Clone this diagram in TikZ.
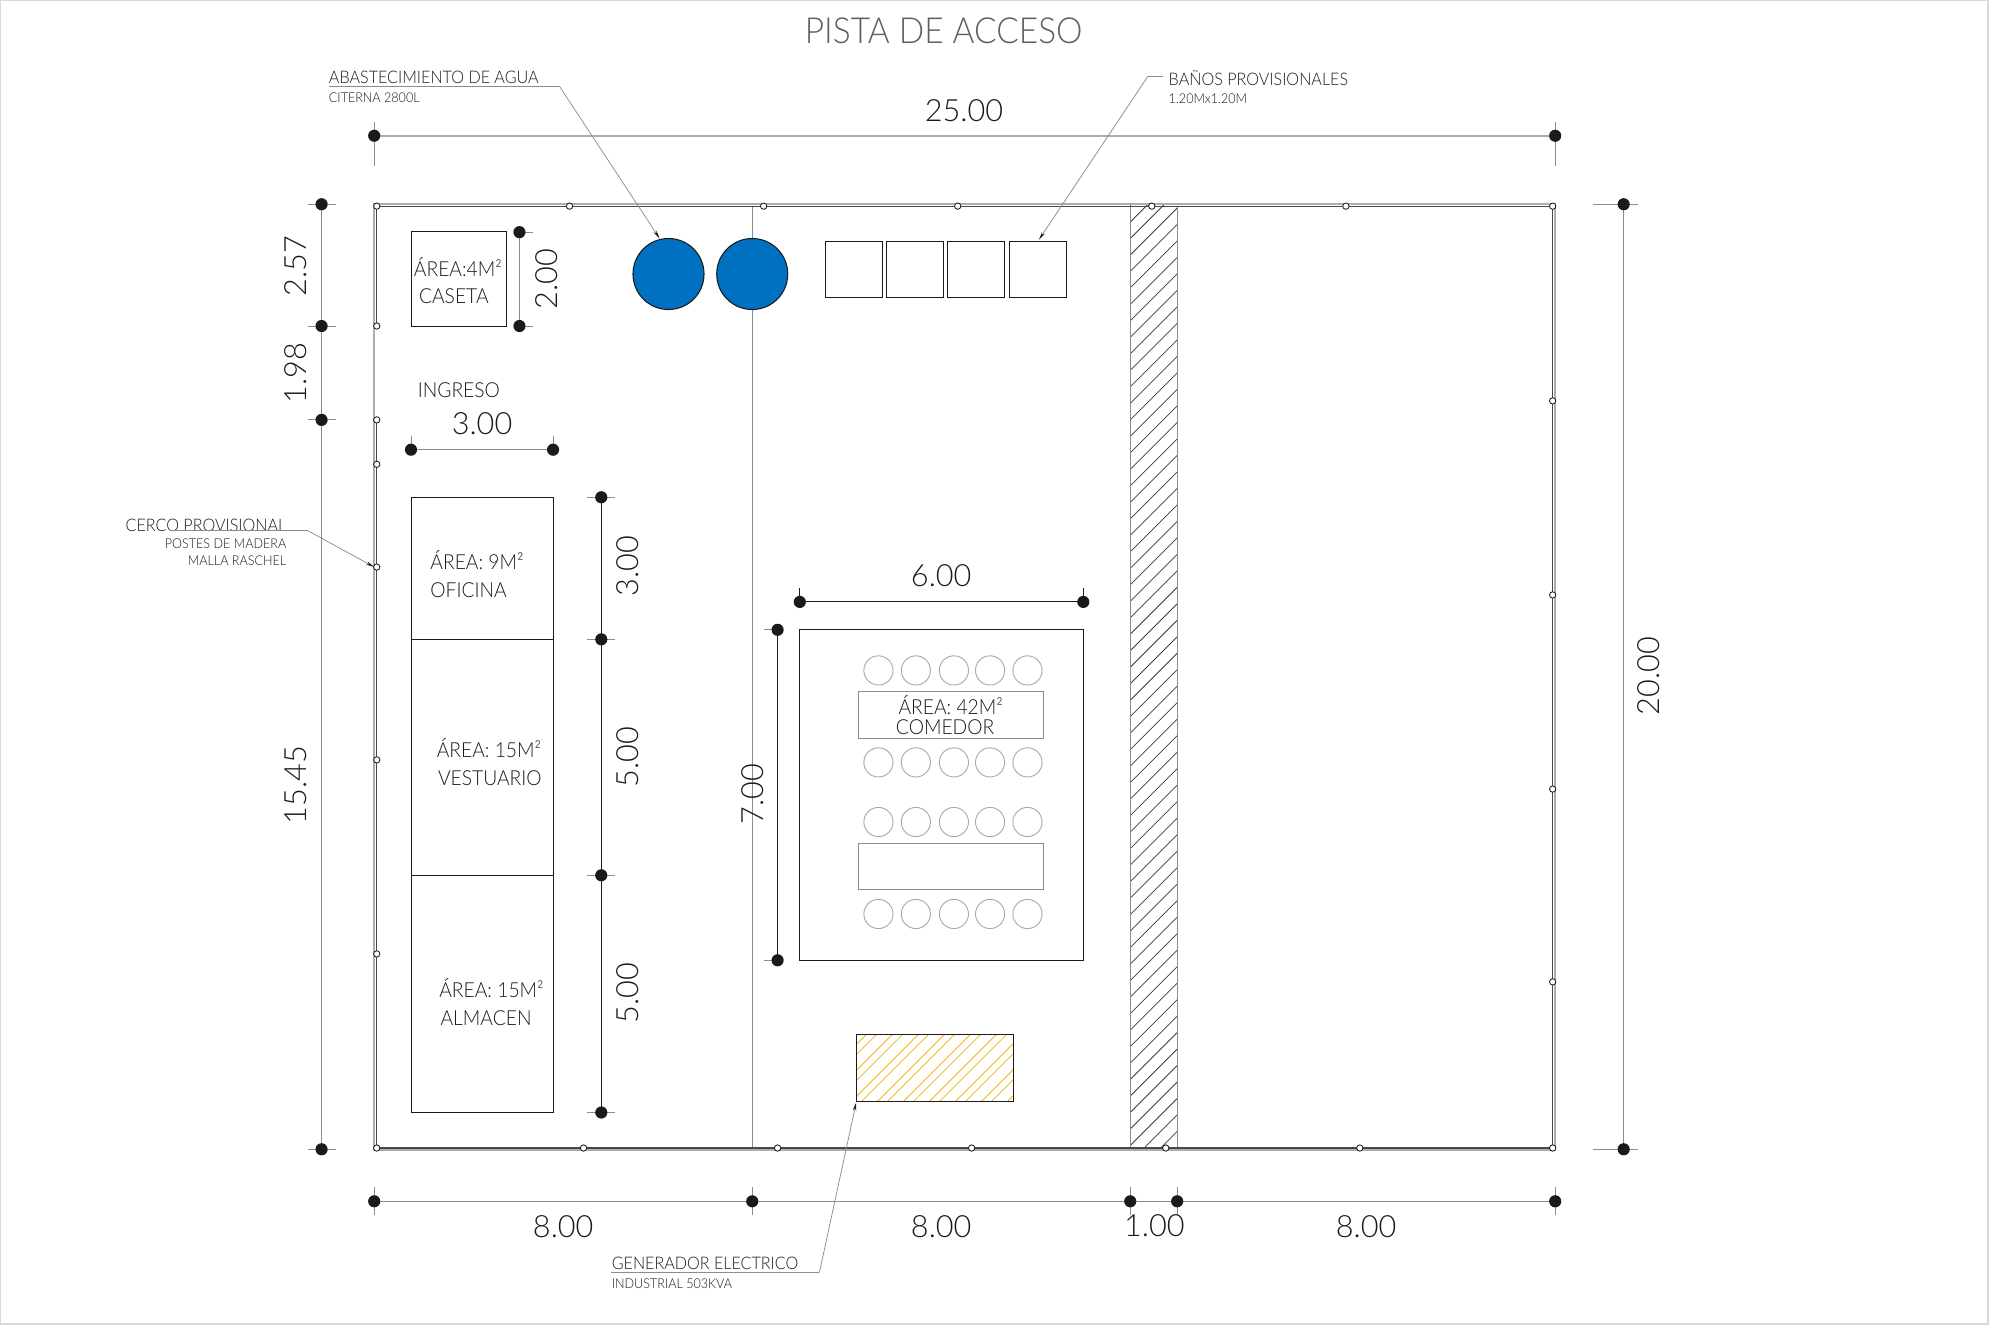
\documentclass[tikz,border=0pt]{standalone}
\usepackage{fontspec}
\setmainfont{Lato Light}
\newfontfamily\narrowfont[FakeStretch=0.93]{Lato Light}
\usetikzlibrary{arrows.meta}
\definecolor{inkdark}{HTML}{1A1A1A}
\definecolor{linegray}{HTML}{8C8C8C}
\definecolor{palegray}{HTML}{ADADAD}
\definecolor{chairgray}{HTML}{ABABAB}
\definecolor{tankblue}{HTML}{0070C0}
\definecolor{hatchyellow}{HTML}{F0C030}
\tikzset{
	x=0.6pt, y=-0.6pt,
	dimtext/.style={text=inkdark, inner sep=0pt, font=\fontsize{14.5}{16}\selectfont},
	roomtext/.style={text=inkdark, inner sep=0pt, anchor=mid west, font=\narrowfont\fontsize{9.8}{11}\selectfont},
	notetext/.style={text=inkdark, inner sep=0pt, font=\narrowfont\fontsize{8.2}{9}\selectfont},
	subtext/.style={text=inkdark, inner sep=0pt, font=\narrowfont\fontsize{6.4}{7}\selectfont},
	room/.style={draw=inkdark, line width=0.55pt},
	thinbox/.style={draw=linegray, line width=0.5pt},
	chair/.style={draw=chairgray, line width=0.45pt},
	dimline/.style={draw=linegray, line width=0.6pt},
	paledim/.style={draw=palegray, line width=0.8pt},
	darkdim/.style={draw=inkdark, line width=0.5pt},
	tick/.style={draw=linegray, line width=0.45pt},
	leader/.style={draw=linegray, line width=0.35pt},
	leaderarrow/.style={draw=linegray, line width=0.35pt, -{Stealth[length=4pt,width=1.6pt,inkdark]}},
	post/.style={draw=inkdark, fill=white, line width=0.4pt},
}
\newcommand{\dimdot}[1]{\fill[inkdark] (#1) circle [radius=4.8];}
\begin{document}
\begin{tikzpicture}
	\useasboundingbox (0,0) rectangle (1568,1044.5);
	\draw[draw=black!15, line width=0.9pt] (0.2,0.2) rectangle (1567.3,1043.8);	% Sheet edge
	% Axis between the two first bays
	\draw[dimline] (593,162) -- (593,906);
	% Strip of 1.00
	\begin{scope}
		\clip (891,162) rectangle (928,906);
		\foreach \i in {162,175,...,960}
			\draw[draw=inkdark!85, line width=0.35pt] (891,\i) -- (928,\i-37);
	\end{scope}
	\draw[thinbox] (891,162) -- (891,906);
	\draw[thinbox] (928,162) -- (928,906);
	% Fence, open at the entrance
	\draw[draw=palegray, line width=0.8pt] (295,161) -- (1226,161) -- (1226,906.5) -- (295,906.5) -- cycle;
	\draw[draw=inkdark!80, line width=0.5pt] (297,257) -- (297,163) -- (1224,163) -- (1224,905) -- (297,905) -- (297,331);
	\foreach \x in {297,449,602,755,908,1061,1224}
		\draw[post] (\x,162.5) circle [radius=2.5];
	\foreach \x in {297,460,613,766,919,1072,1224}
		\draw[post] (\x,905) circle [radius=2.5];
	\foreach \y in {257,331,366,447,599,752}
		\draw[post] (297,\y) circle [radius=2.5];
	\foreach \y in {316,469,622,774}
		\draw[post] (1224,\y) circle [radius=2.5];
	% Caseta
	\draw[room] (324.5,182.5) rectangle (399,257.5);
	\node[roomtext] (casetaarea) at (326,214) {ÁREA:4M²};
	\node[roomtext] (caseta) at (330,235) {CASETA};
	% Tanks
	\draw[draw=inkdark, fill=tankblue, line width=0.5pt] (527,216) circle [radius=28];
	\draw[draw=inkdark, fill=tankblue, line width=0.5pt] (593,216) circle [radius=28];
	% Toilets
	\foreach \x/\xx in {650.5/695.5,698.5/744,747/792,795.5/840.5}
		\draw[room, line width=0.45pt] (\x,190) rectangle (\xx,234.5);
	% Rooms on the left
	\draw[room] (324.5,392) rectangle (436.5,504);
	\draw[room] (324.5,504) rectangle (436.5,690);
	\draw[room] (324.5,690) rectangle (436.5,877);
	\node[roomtext] (ingreso) at (329,309) {INGRESO};
	\node[roomtext] (oficinaarea) at (339,445) {ÁREA: 9M²};
	\node[roomtext] (oficina) at (339,467) {OFICINA};
	\node[roomtext] (vestuarioarea) at (344,593) {ÁREA: 15M²};
	\node[roomtext] (vestuario) at (345,615) {VESTUARIO};
	\node[roomtext] (almacenarea) at (346,782) {ÁREA: 15M²};
	\node[roomtext] (almacen) at (347,804) {ALMACEN};
	% Dining room
	\draw[room] (630.5,496.5) rectangle (854,757);
	\draw[thinbox] (676.5,545) rectangle (822.5,582.5);
	\draw[thinbox] (676.5,665) rectangle (822.5,701.5);
	\foreach \y in {528.5,601,648,720.5}
		\foreach \x in {692.5,722,752,780.5,810}
			\draw[chair] (\x,\y) circle [radius=11.5];
	\node[roomtext] (comedorarea) at (708,559) {ÁREA: 42M²};
	\node[roomtext] (comedor) at (706,575) {COMEDOR};
	% Generator
	\begin{scope}
		\clip (675.5,815.5) rectangle (799,868);
		\foreach \i in {610,630.5,...,800} {
			\draw[draw=hatchyellow, line width=0.45pt] (\i,868) -- (\i+52.5,815.5);
			\draw[draw=hatchyellow, line width=0.45pt] (\i+8,868) -- (\i+60.5,815.5);
		}
	\end{scope}
	\draw[room] (675.5,815.5) rectangle (799,868);
	% Dimensions: top and right
	\coordinate (topa) at (295,107);
	\coordinate (topb) at (1226,107);
	\draw[paledim] (topa) -- (topb);
	\foreach \p in {topa,topb} {
		\draw[tick] ([yshift=6.6pt]\p) -- ([yshift=-14.4pt]\p);
		\dimdot{\p}
	}
	\node[dimtext] (toplabel) at (760,87) {25.00};
	\coordinate (righta) at (1280,161);
	\coordinate (rightb) at (1280,906);
	\draw[dimline] (righta) -- (rightb);
	\foreach \p in {righta,rightb} {
		\draw[tick] ([xshift=-14.4pt]\p) -- ([xshift=6.6pt]\p);
		\dimdot{\p}
	}
	\node[dimtext, rotate=90] (rightlabel) at (1300,533) {20.00};
	% Dimensions: left
	\coordinate (lefta) at (253.5,161);
	\coordinate (leftb) at (253.5,257);
	\coordinate (leftc) at (253.5,331);
	\coordinate (leftd) at (253.5,906);
	\draw[dimline] (lefta) -- (leftd);
	\foreach \p in {lefta,leftb,leftc,leftd} {
		\draw[tick] ([xshift=-6.6pt]\p) -- ([xshift=6.6pt]\p);
		\dimdot{\p}
	}
	\node[dimtext, rotate=90] (lefttop) at (233,210) {2.57};
	\node[dimtext, rotate=90] (leftmid) at (233,294) {1.98};
	\node[dimtext, rotate=90] (leftlow) at (233,619) {15.45};
	% Dimensions: bottom
	\coordinate (lowa) at (295,947);
	\coordinate (lowb) at (593,947);
	\coordinate (lowc) at (891,947);
	\coordinate (lowd) at (928,947);
	\coordinate (lowe) at (1226,947);
	\draw[dimline] (lowa) -- (lowe);
	\foreach \p in {lowa,lowb,lowc,lowd,lowe} {
		\draw[tick] ([yshift=6.6pt]\p) -- ([yshift=-6.6pt]\p);
		\dimdot{\p}
	}
	\node[dimtext] (lowlabela) at (444,967) {8.00};
	\node[dimtext] (lowlabelb) at (742,967) {8.00};
	\node[dimtext] (lowlabelc) at (910,966) {1.00};
	\node[dimtext] (lowlabeld) at (1077,967) {8.00};
	% Dimensions: caseta and entrance
	\coordinate (casetaa) at (409.5,183);
	\coordinate (casetab) at (409.5,257);
	\draw[dimline] (casetaa) -- (casetab);
	\foreach \p in {casetaa,casetab} {
		\draw[tick] (\p) -- ([xshift=6.6pt]\p);
		\dimdot{\p}
	}
	\node[dimtext, rotate=90] (casetalabel) at (431,220) {2.00};
	\coordinate (ingresoa) at (324,354.5);
	\coordinate (ingresob) at (436,354.5);
	\draw[dimline] (ingresoa) -- (ingresob);
	\foreach \p in {ingresoa,ingresob} {
		\draw[tick] (\p) -- ([yshift=6.6pt]\p);
		\dimdot{\p}
	}
	\node[dimtext] (ingresolabel) at (380,334) {3.00};
	% Dimensions: rooms
	\coordinate (rooma) at (474,392);
	\coordinate (roomb) at (474,504);
	\coordinate (roomc) at (474,690);
	\coordinate (roomd) at (474,877);
	\draw[darkdim] (rooma) -- (roomd);
	\foreach \p in {rooma,roomb,roomc,roomd} {
		\draw[tick] ([xshift=-6.6pt]\p) -- ([xshift=6.6pt]\p);
		\dimdot{\p}
	}
	\node[dimtext, rotate=90] (roomlabela) at (495,446) {3.00};
	\node[dimtext, rotate=90] (roomlabelb) at (495,597) {5.00};
	\node[dimtext, rotate=90] (roomlabelc) at (495,783) {5.00};
	% Dimensions: dining room
	\coordinate (dinea) at (630.5,474.5);
	\coordinate (dineb) at (854,474.5);
	\draw[darkdim] (dinea) -- (dineb);
	\foreach \p in {dinea,dineb} {
		\draw[darkdim] (\p) -- ([yshift=6.6pt]\p);
		\dimdot{\p}
	}
	\node[dimtext] (dinelabel) at (742,454) {6.00};
	\coordinate (dinec) at (613,496.5);
	\coordinate (dined) at (613,757);
	\draw[darkdim] (dinec) -- (dined);
	\foreach \p in {dinec,dined} {
		\draw[tick] ([xshift=-6.6pt]\p) -- (\p);
		\dimdot{\p}
	}
	\node[dimtext, rotate=90] (dineheight) at (593,626) {7.00};
	% Leaders
	\node[font=\narrowfont\fontsize{17}{19}\selectfont, text=inkdark!70, inner sep=0pt] (title) at (744,24) {PISTA DE ACCESO};
	\node[notetext, anchor=mid west] (agua) at (259,62) {ABASTECIMIENTO DE AGUA};
	\node[subtext, anchor=mid west] (citerna) at (259,76.5) {CITERNA 2800L};
	\coordinate (aguastart) at (259,68);
	\coordinate (aguabend) at (441,68);
	\coordinate (aguatip) at (520,188);
	\draw[leader] (aguastart) -- (aguabend);
	\draw[leaderarrow] (aguabend) -- (aguatip);
	\node[notetext, anchor=mid west] (banos) at (921,63) {BAÑOS PROVISIONALES};
	\node[subtext, anchor=mid west] (banossize) at (921,77.5) {1.20Mx1.20M};
	\coordinate (banosstart) at (917,60);
	\coordinate (banosbend) at (905,60);
	\coordinate (banostip) at (819,189);
	\draw[leader] (banosstart) -- (banosbend);
	\draw[leaderarrow] (banosbend) -- (banostip);
	\node[notetext, anchor=mid east] (cerco) at (226,415) {CERCO PROVISIONAL};
	\node[subtext, anchor=mid east] (postes) at (226,428.5) {POSTES DE MADERA};
	\node[subtext, anchor=mid east] (malla) at (226,441.5) {MALLA RASCHEL};
	\coordinate (cercostart) at (134,418);
	\coordinate (cercobend) at (242,418);
	\coordinate (cercotip) at (295,447);
	\draw[leader] (cercostart) -- (cercobend);
	\draw[leaderarrow] (cercobend) -- (cercotip);
	\node[notetext, anchor=mid west] (generador) at (482,997) {GENERADOR ELECTRICO};
	\node[subtext, anchor=mid west] (industrial) at (482,1011.5) {INDUSTRIAL 503KVA};
	\coordinate (genstart) at (482,1003);
	\coordinate (genbend) at (646,1003);
	\coordinate (gentip) at (675,869);
	\draw[leader] (genstart) -- (genbend);
	\draw[leaderarrow] (genbend) -- (gentip);
\end{tikzpicture}
\end{document}
